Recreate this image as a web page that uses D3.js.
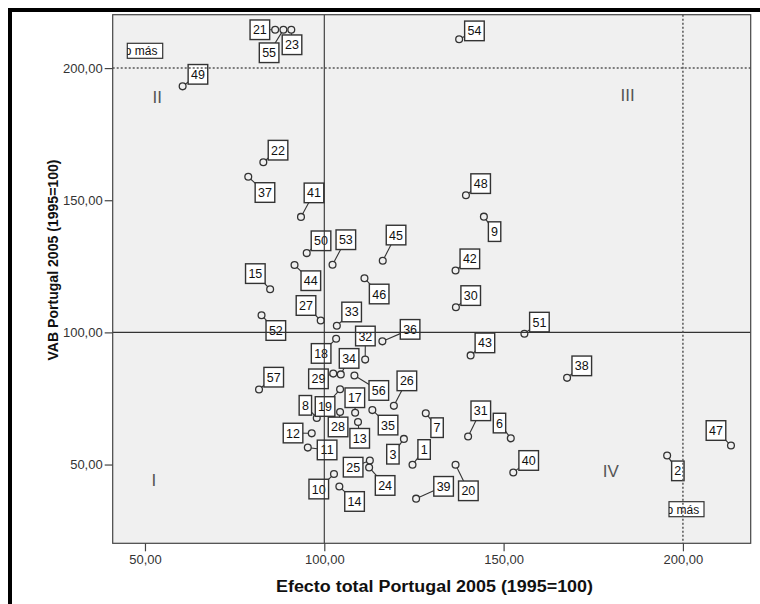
<!DOCTYPE html>
<html>
<head>
<meta charset="utf-8">
<script src="https://cdn.jsdelivr.net/npm/d3@7"></script>
<style>
  body { margin: 0; background: #fff; }
  svg { display: block; font-family: Arial, "Liberation Sans", sans-serif; }
</style>
</head>
<body>
<div id="drawArea"></div>
<script>
// Sector ids and their values (1995=100)
var ids = [1, 2, 3, 6, 7, 8, 9, 10, 11, 12, 13, 14, 15, 17, 18, 19, 20, 21, 22, 23,
  24, 25, 26, 27, 28, 29, 30, 31, 32, 33, 34, 35, 36, 37, 38, 39, 40, 41, 42, 43,
  44, 45, 46, 47, 48, 49, 50, 51, 52, 53, 54, 55, 56, 57];
// Efecto total Portugal 2005
var efectoTotal = [124.6, 195.6, 122.2, 152.0, 128.3, 97.9, 144.5, 102.7, 95.4, 96.5,
  109.4, 104.2, 84.9, 108.6, 103.3, 104.4, 136.6, 86.3, 83.0, 90.8,
  112.5, 112.7, 119.4, 99.0, 104.4, 102.5, 136.7, 140.1, 111.4, 103.5,
  104.6, 113.4, 116.2, 78.8, 167.7, 125.6, 152.7, 93.5, 136.6, 140.8,
  91.7, 116.3, 111.2, 213.4, 139.5, 60.5, 95.1, 155.8, 82.5, 102.3,
  137.6, 88.6, 108.4, 81.8];
// VAB Portugal 2005
var vab = [49.9, 53.4, 59.7, 59.9, 69.4, 67.6, 143.8, 46.4, 56.4, 61.8,
  66.1, 41.7, 116.3, 69.6, 97.6, 78.5, 49.9, 214.5, 164.4, 214.5,
  48.9, 51.5, 72.2, 104.5, 69.9, 84.4, 109.5, 60.6, 89.7, 102.5,
  84.1, 70.6, 96.6, 158.9, 82.8, 37.1, 47.0, 143.7, 123.4, 91.3,
  125.5, 127.1, 120.5, 57.2, 151.9, 193.1, 130.0, 99.5, 106.5, 125.6,
  210.9, 214.5, 83.7, 78.4];

var xTicks = [50, 100, 150, 200];
var yTicks = [50, 100, 150, 200];
var quadrants = ['I', 'II', 'III', 'IV'];
var quadX = [52.5, 53.4, 184.6, 179.9];
var quadY = [42.0, 186.8, 187.7, 45.1];

// where SPSS put each point label (pixel offset from the point)
var labelDx = [11.6, 10.7, -11, -11.3, 11.3, -11.4, 10.7, -15.2, 19.3, -18.7,
  1.7, 15.2, -14.8, -0.3, -15, -15, 12.8, -15.3, 14.7, 0.7,
  16, -16.7, 13, -14.7, -2, -14.8, 14.8, 12.7, 0.2, 14.8,
  8.3, 15.7, 27.7, 16.7, 14.7, 27.5, 15.4, 13, 14.3, 14.3,
  16.3, 13.3, 14.7, -15, 14.7, 15.3, 14.3, 15, 14.3, 13.3,
  15.3, -14.3, 24.4, 14.7];
var labelDy = [-15.3, 15.3, 15.3, -15.3, 14.4, -12.7, 15, 15, 2.3, -0.3,
  16.3, 15, -15.7, -15, 14.7, 17.3, 26, 0, -12, 15,
  18, 6.6, -25, -15, 15, 5.2, -11.7, -25.7, -23.6, -13.8,
  -16, 15, -12, 15.8, -12, -12.3, -12, -24, -11.7, -12.5,
  15.7, -25.7, 15.8, -15, -11.6, -12, -12.3, -11.6, 15.3, -25,
  -8.4, 23, 15, -12.3];

var points = ids.map(function (id, i) {
  return { id: id, x: efectoTotal[i], y: vab[i], dx: labelDx[i], dy: labelDy[i] };
});

var width = 760, height = 604;
var plot = { left: 112.7, top: 14.7, right: 750.7, bottom: 543.3 };

var svg = d3.select('#drawArea')
  .append('svg')
  .attr('width', width)
  .attr('height', height);

var x = d3.scaleLinear().domain([41.0, 218.9]).range([plot.left, plot.right]);
var y = d3.scaleLinear().domain([20.2, 220.2]).range([plot.bottom, plot.top]);

var fmt = function (d) { return d.toFixed(2).replace('.', ','); };

// plot background
svg.append('rect')
  .attr('x', plot.left).attr('y', plot.top)
  .attr('width', plot.right - plot.left).attr('height', plot.bottom - plot.top)
  .attr('fill', '#f0f0f0');

svg.append('clipPath').attr('id', 'plotClip')
  .append('rect')
  .attr('x', plot.left).attr('y', plot.top)
  .attr('width', plot.right - plot.left).attr('height', plot.bottom - plot.top);

var g = svg.append('g').attr('clip-path', 'url(#plotClip)');

// quadrant numbers
g.selectAll('.quad')
  .data(quadrants)
  .enter()
  .append('text')
  .attr('class', 'quad')
  .attr('x', function (d, i) { return x(quadX[i]); })
  .attr('y', function (d, i) { return y(quadY[i]); })
  .attr('text-anchor', 'middle')
  .attr('font-size', '17px')
  .attr('fill', '#555')
  .text(function (d) { return d; });

var r = 3.4;

// leader lines
g.selectAll('.leader')
  .data(points)
  .enter()
  .append('line')
  .attr('class', 'leader')
  .attr('x1', function (d) {
    var l = Math.sqrt(d.dx * d.dx + d.dy * d.dy);
    return x(d.x) + d.dx / l * r;
  })
  .attr('y1', function (d) {
    var l = Math.sqrt(d.dx * d.dx + d.dy * d.dy);
    return y(d.y) + d.dy / l * r;
  })
  .attr('x2', function (d) { return x(d.x) + d.dx; })
  .attr('y2', function (d) { return y(d.y) + d.dy; })
  .attr('stroke', '#333')
  .attr('stroke-width', 1.1);

// points
g.selectAll('.pt')
  .data(points)
  .enter()
  .append('circle')
  .attr('class', 'pt')
  .attr('cx', function (d) { return x(d.x); })
  .attr('cy', function (d) { return y(d.y); })
  .attr('r', r)
  .attr('fill', 'none')
  .attr('stroke', '#333')
  .attr('stroke-width', 1.3);

// label boxes
var lab = g.selectAll('.lab')
  .data(points)
  .enter()
  .append('g')
  .attr('class', 'lab')
  .attr('transform', function (d) {
    return 'translate(' + (x(d.x) + d.dx) + ',' + (y(d.y) + d.dy) + ')';
  });

lab.append('rect')
  .attr('x', function (d) { return d.id < 10 ? -6.2 : -9.8; })
  .attr('y', -9.8)
  .attr('width', function (d) { return d.id < 10 ? 12.4 : 19.6; })
  .attr('height', 19.6)
  .attr('fill', '#fff')
  .attr('stroke', '#333')
  .attr('stroke-width', 1.4);

lab.append('text')
  .attr('text-anchor', 'middle')
  .attr('y', 4.5)
  .attr('font-size', '12.5px')
  .attr('fill', '#111')
  .text(function (d) { return d.id; });

// labels of the 200 reference lines ("200 o más", cut by its own box)
var refLabels = [
  { x: 127.3, y: 43.3, w: 35.4, h: 15 },
  { x: 669, y: 501.7, w: 35, h: 15 }
];
refLabels.forEach(function (b, i) {
  svg.append('clipPath').attr('id', 'refClip' + i)
    .append('rect').attr('x', b.x).attr('y', b.y).attr('width', b.w).attr('height', b.h);
  g.append('rect')
    .attr('x', b.x).attr('y', b.y).attr('width', b.w).attr('height', b.h)
    .attr('fill', '#fff').attr('stroke', '#333').attr('stroke-width', 1.2);
  g.append('text')
    .attr('clip-path', 'url(#refClip' + i + ')')
    .attr('x', b.x - 2.5).attr('y', b.y + 11.8)
    .attr('font-size', '12px').attr('fill', '#111')
    .text('o más');
});

// reference lines
g.append('line')
  .attr('x1', x(100)).attr('x2', x(100)).attr('y1', plot.top).attr('y2', plot.bottom)
  .attr('stroke', '#333').attr('stroke-width', 1.1);
g.append('line')
  .attr('y1', y(100)).attr('y2', y(100)).attr('x1', plot.left).attr('x2', plot.right)
  .attr('stroke', '#333').attr('stroke-width', 1.1);
g.append('line')
  .attr('x1', x(200)).attr('x2', x(200)).attr('y1', plot.top).attr('y2', plot.bottom)
  .attr('stroke', '#555').attr('stroke-width', 1.5).attr('stroke-dasharray', '2,2');
g.append('line')
  .attr('y1', y(200)).attr('y2', y(200)).attr('x1', plot.left).attr('x2', plot.right)
  .attr('stroke', '#555').attr('stroke-width', 1.5).attr('stroke-dasharray', '2,2');

// plot frame
svg.append('rect')
  .attr('x', plot.left).attr('y', plot.top)
  .attr('width', plot.right - plot.left).attr('height', plot.bottom - plot.top)
  .attr('fill', 'none').attr('stroke', '#444').attr('stroke-width', 1.2);

// axes
var xAxis = svg.append('g')
  .attr('transform', 'translate(0,' + plot.bottom + ')')
  .call(d3.axisBottom(x).tickValues(xTicks).tickFormat(fmt).tickSize(8).tickPadding(3));
var yAxis = svg.append('g')
  .attr('transform', 'translate(' + plot.left + ',0)')
  .call(d3.axisLeft(y).tickValues(yTicks).tickFormat(fmt).tickSize(8).tickPadding(2));

[xAxis, yAxis].forEach(function (a) {
  a.select('.domain').remove();
  a.selectAll('line').attr('stroke', '#444').attr('stroke-width', 1.2);
  a.selectAll('text')
    .attr('font-family', 'Arial, "Liberation Sans", sans-serif')
    .attr('font-size', '13px')
    .attr('fill', '#333');
});

// axis titles
svg.append('text')
  .attr('x', 434.5)
  .attr('y', 592)
  .attr('text-anchor', 'middle')
  .attr('font-size', '16px')
  .attr('font-weight', 'bold')
  .attr('fill', '#111')
  .attr('textLength', 317)
  .attr('lengthAdjust', 'spacingAndGlyphs')
  .text('Efecto total Portugal 2005 (1995=100)');

svg.append('text')
  .attr('transform', 'translate(57.5,260) rotate(-90)')
  .attr('text-anchor', 'middle')
  .attr('font-size', '14.5px')
  .attr('font-weight', 'bold')
  .attr('fill', '#111')
  .attr('textLength', 201)
  .attr('lengthAdjust', 'spacingAndGlyphs')
  .text('VAB Portugal 2005 (1995=100)');

// outer frame (only top and left fall inside the window)
svg.append('rect')
  .attr('x', 10).attr('y', 10)
  .attr('width', 800).attr('height', 700)
  .attr('fill', 'none')
  .attr('stroke', '#000')
  .attr('stroke-width', 4);
</script>
</body>
</html>
